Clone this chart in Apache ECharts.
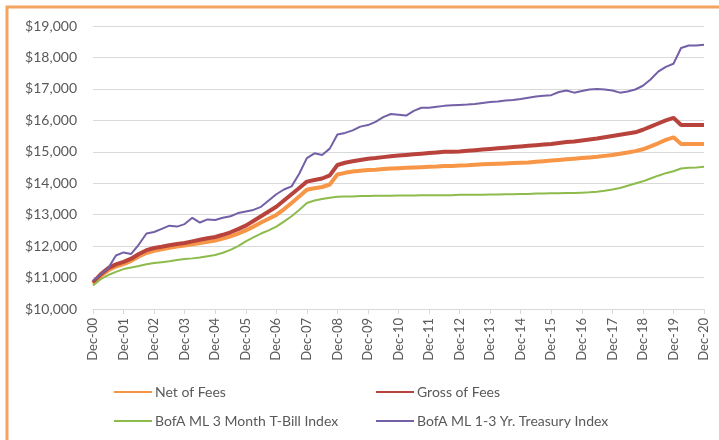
<!DOCTYPE html>
<html>
<head>
<meta charset="utf-8">
<script src="https://cdn.jsdelivr.net/npm/echarts@6/dist/echarts.min.js"></script>
<style>
  html, body { margin: 0; padding: 0; background: #fff; }
  #main { width: 719px; height: 440px; }
</style>
</head>
<body>
<div id="main"></div>
<script>
// quarterly points, Dec-00 .. Dec-20
const months = ["Mar", "Jun", "Sep", "Dec"];
const quarters = ["Dec-00"];
for (let y = 1; y <= 20; y++) {
    const yy = (y < 10 ? "0" : "") + y;
    months.forEach(m => quarters.push(m + "-" + yy));
}

const yTicks = [10000, 11000, 12000, 13000, 14000, 15000, 16000, 17000, 18000, 19000];

const netOfFees = [
    10800, 11050, 11230, 11350, 11430, 11530, 11670, 11780, 11850, 11900,
    11950, 11990, 12020, 12060, 12100, 12140, 12180, 12240, 12310, 12400,
    12500, 12620, 12750, 12870, 12990, 13170, 13370, 13580, 13790, 13840,
    13880, 13960, 14280, 14330, 14370, 14400, 14420, 14430, 14450, 14470,
    14480, 14490, 14500, 14510, 14520, 14530, 14550, 14550, 14560, 14570,
    14590, 14600, 14610, 14620, 14630, 14640, 14650, 14660, 14680, 14700,
    14720, 14740, 14760, 14780, 14800, 14820, 14840, 14870, 14900, 14940,
    14980, 15020, 15080, 15170, 15270, 15380, 15460, 15250, 15250, 15250,
    15250
];

const grossOfFees = [
    10850, 11100, 11300, 11420, 11500, 11600, 11750, 11870, 11940, 11980,
    12030, 12070, 12100, 12150, 12200, 12250, 12290, 12360, 12440, 12540,
    12650, 12800, 12950, 13100, 13250, 13450, 13650, 13850, 14050, 14100,
    14150, 14250, 14580, 14650, 14700, 14740, 14780, 14800, 14830, 14860,
    14880, 14900, 14920, 14940, 14960, 14980, 15000, 15000, 15010, 15030,
    15050, 15070, 15090, 15110, 15130, 15150, 15170, 15190, 15210, 15230,
    15250, 15280, 15310, 15330, 15360, 15390, 15420, 15460, 15500, 15540,
    15580, 15620, 15700, 15800, 15900, 16000, 16080, 15850, 15850, 15850,
    15850
];

const tBill = [
    10750, 10950, 11080, 11180, 11270, 11320, 11370, 11420, 11460, 11490,
    11520, 11560, 11590, 11610, 11640, 11680, 11720, 11790, 11880, 12000,
    12150, 12280, 12400, 12500, 12620, 12780, 12950, 13150, 13370, 13450,
    13500, 13540, 13570, 13580, 13580, 13590, 13590, 13600, 13600, 13600,
    13610, 13610, 13610, 13620, 13620, 13620, 13620, 13620, 13630, 13630,
    13630, 13630, 13640, 13640, 13650, 13650, 13660, 13660, 13670, 13670,
    13680, 13680, 13690, 13690, 13700, 13710, 13730, 13760, 13800, 13850,
    13920, 13990, 14060, 14150, 14240, 14320, 14380, 14470, 14490, 14500,
    14520
];

const treasury = [
    10900, 11100, 11300, 11700, 11800, 11750, 12050, 12400, 12450, 12550,
    12650, 12620, 12700, 12900, 12750, 12850, 12830, 12900, 12950, 13050,
    13100, 13150, 13250, 13450, 13650, 13800, 13900, 14300, 14800, 14950,
    14900, 15100, 15550, 15600, 15680, 15800, 15850, 15950, 16100, 16200,
    16180, 16150, 16300, 16400, 16400, 16430, 16460, 16480, 16490, 16500,
    16520, 16550, 16580, 16600, 16630, 16650, 16680, 16720, 16760, 16780,
    16800, 16900, 16950, 16880, 16930, 16980, 17000, 16980, 16950, 16880,
    16920, 16980, 17100, 17300, 17550, 17700, 17800, 18300, 18380, 18380,
    18400
];

const chart = echarts.init(document.getElementById("main"));

const labelColor = "#595959";
const fontFamily = "Lato, 'Open Sans', sans-serif";

function lineSeries(name, data, color, width) {
    return {
        name: name,
        type: "line",
        data: data,
        showSymbol: false,
        symbol: "none",
        smooth: false,
        lineStyle: { color: color, width: width },
        itemStyle: { color: color },
        emphasis: { disabled: true }
    };
}

const legendBase = {
    top: 380,
    orient: "vertical",
    itemWidth: 38,
    itemHeight: 14,
    itemGap: 15,
    itemStyle: { opacity: 0, borderWidth: 0 },
    textStyle: { color: labelColor, fontSize: 14, fontFamily: fontFamily, padding: [0, 0, 0, -2] }
};

chart.setOption({
    backgroundColor: "#fff",
    animation: false,
    textStyle: { fontFamily: fontFamily },
    grid: { left: 93, right: 15, top: 26, bottom: 131, containLabel: false },
    graphic: [{
        type: "rect",
        shape: { x: 7, y: 7, width: 740, height: 460 },
        style: { fill: null, stroke: "#F4A461", lineWidth: 3 },
        silent: true
    }],
    legend: [
        Object.assign({}, legendBase, {
            left: 108,
            data: ["Net of Fees", "BofA ML 3 Month T-Bill Index"]
        }),
        Object.assign({}, legendBase, {
            left: 370,
            data: ["Gross of Fees", "BofA ML 1-3 Yr. Treasury Index"]
        })
    ],
    xAxis: {
        type: "category",
        data: quarters,
        boundaryGap: false,
        axisLine: { lineStyle: { color: "#D9D9D9", width: 1 } },
        axisTick: { show: true, interval: 3, length: 5, lineStyle: { color: "#D9D9D9" } },
        axisLabel: {
            interval: 3,
            rotate: 90,
            color: labelColor,
            fontSize: 13,
            margin: 9,
            fontFamily: fontFamily
        },
        splitLine: { show: false }
    },
    yAxis: {
        type: "value",
        min: yTicks[0],
        max: yTicks[yTicks.length - 1],
        interval: 1000,
        axisLine: { show: false },
        axisTick: { show: false },
        axisLabel: {
            color: labelColor,
            fontSize: 14,
            margin: 16,
            fontFamily: fontFamily,
            formatter: v => "$" + v.toLocaleString("en-US")
        },
        splitLine: { lineStyle: { color: "#D9D9D9", width: 1 } }
    },
    series: [
        lineSeries("Net of Fees", netOfFees, "#F79646", 4),
        lineSeries("Gross of Fees", grossOfFees, "#B8433D", 4),
        lineSeries("BofA ML 3 Month T-Bill Index", tBill, "#8DBB4C", 2),
        lineSeries("BofA ML 1-3 Yr. Treasury Index", treasury, "#7360A6", 2)
    ]
});
</script>
</body>
</html>
